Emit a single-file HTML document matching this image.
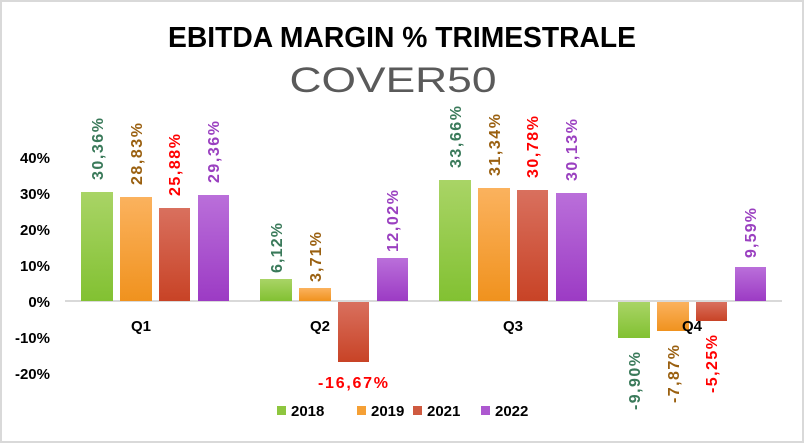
<!DOCTYPE html>
<html><head><meta charset="utf-8"><style>
html,body{margin:0;padding:0;background:#fff}
svg{display:block;font-family:"Liberation Sans",sans-serif}
</style></head><body>
<svg width="804" height="443" viewBox="0 0 804 443">
<defs>
<linearGradient id="g" x1="0" y1="0" x2="0" y2="1"><stop offset="0" stop-color="#a9d466"/><stop offset="1" stop-color="#82c132"/></linearGradient>
<linearGradient id="o" x1="0" y1="0" x2="0" y2="1"><stop offset="0" stop-color="#fbb25e"/><stop offset="1" stop-color="#f0921e"/></linearGradient>
<linearGradient id="r" x1="0" y1="0" x2="0" y2="1"><stop offset="0" stop-color="#d9705e"/><stop offset="1" stop-color="#c84326"/></linearGradient>
<linearGradient id="p" x1="0" y1="0" x2="0" y2="1"><stop offset="0" stop-color="#ba6fda"/><stop offset="1" stop-color="#9c3bc4"/></linearGradient>
</defs>
<rect x="1" y="1" width="802" height="441" fill="#fff" stroke="#d9d9d9" stroke-width="2"/>
<text x="402" y="47" text-anchor="middle" font-size="29" font-weight="bold" textLength="468" lengthAdjust="spacingAndGlyphs">EBITDA MARGIN % TRIMESTRALE</text>
<text x="393" y="92" text-anchor="middle" font-size="35" fill="#5a5a5a" textLength="207" lengthAdjust="spacingAndGlyphs">COVER50</text>
<g font-size="15" font-weight="bold" text-anchor="end">
<text x="50" y="163">40%</text><text x="50" y="199">30%</text><text x="50" y="235">20%</text><text x="50" y="271">10%</text><text x="50" y="307">0%</text><text x="50" y="343">-10%</text><text x="50" y="379">-20%</text>
</g>
<line x1="65" y1="301" x2="782" y2="301" stroke="#d9d9d9" stroke-width="2"/>
<g>
<rect x="81" y="192" width="32" height="109" fill="url(#g)"/>
<rect x="120" y="197" width="32" height="104" fill="url(#o)"/>
<rect x="159" y="208" width="31" height="93" fill="url(#r)"/>
<rect x="198" y="195" width="31" height="106" fill="url(#p)"/>
<rect x="260" y="279" width="32" height="22" fill="url(#g)"/>
<rect x="299" y="288" width="32" height="13" fill="url(#o)"/>
<rect x="338" y="302" width="31" height="60" fill="url(#r)"/>
<rect x="377" y="258" width="31" height="43" fill="url(#p)"/>
<rect x="439" y="180" width="32" height="121" fill="url(#g)"/>
<rect x="478" y="188" width="32" height="113" fill="url(#o)"/>
<rect x="517" y="190" width="31" height="111" fill="url(#r)"/>
<rect x="556" y="193" width="31" height="108" fill="url(#p)"/>
<rect x="618" y="302" width="32" height="36" fill="url(#g)"/>
<rect x="657" y="302" width="32" height="29" fill="url(#o)"/>
<rect x="696" y="302" width="31" height="19" fill="url(#r)"/>
<rect x="735" y="267" width="31" height="34" fill="url(#p)"/>
</g>
<g font-size="15" font-weight="bold" text-anchor="middle">
<text x="141" y="331">Q1</text><text x="320" y="331">Q2</text><text x="513" y="331">Q3</text><text x="692" y="331">Q4</text>
</g>
<g font-size="16" font-weight="bold" lengthAdjust="spacingAndGlyphs">
<text transform="translate(103,180) rotate(-90)" fill="#3a7a5a" textLength="62">30,36%</text>
<text transform="translate(142,185) rotate(-90)" fill="#9a6010" textLength="62">28,83%</text>
<text transform="translate(180,196) rotate(-90)" fill="#ff0000" textLength="62">25,88%</text>
<text transform="translate(219,183) rotate(-90)" fill="#9a40c0" textLength="62">29,36%</text>
<text transform="translate(282,273) rotate(-90)" fill="#3a7a5a" textLength="50">6,12%</text>
<text transform="translate(321,282) rotate(-90)" fill="#9a6010" textLength="50">3,71%</text>
<text x="318" y="388" fill="#ff0000" textLength="70">-16,67%</text>
<text transform="translate(398,252) rotate(-90)" fill="#9a40c0" textLength="62">12,02%</text>
<text transform="translate(461,168) rotate(-90)" fill="#3a7a5a" textLength="62">33,66%</text>
<text transform="translate(500,176) rotate(-90)" fill="#9a6010" textLength="62">31,34%</text>
<text transform="translate(538,178) rotate(-90)" fill="#ff0000" textLength="62">30,78%</text>
<text transform="translate(577,181) rotate(-90)" fill="#9a40c0" textLength="62">30,13%</text>
<text transform="translate(640,410) rotate(-90)" fill="#3a7a5a" textLength="58">-9,90%</text>
<text transform="translate(679,403) rotate(-90)" fill="#9a6010" textLength="58">-7,87%</text>
<text transform="translate(717,393) rotate(-90)" fill="#ff0000" textLength="58">-5,25%</text>
<text transform="translate(756,258) rotate(-90)" fill="#9a40c0" textLength="50">9,59%</text>
</g>
<g font-size="15" font-weight="bold">
<rect x="277" y="406" width="9" height="9" fill="#8ec63f"/><text x="291" y="416">2018</text>
<rect x="357" y="406" width="9" height="9" fill="#f5a035"/><text x="371" y="416">2019</text>
<rect x="413" y="406" width="9" height="9" fill="#cf5a40"/><text x="427" y="416">2021</text>
<rect x="481" y="406" width="9" height="9" fill="#ad58d0"/><text x="495" y="416">2022</text>
</g>
</svg>
</body></html>
